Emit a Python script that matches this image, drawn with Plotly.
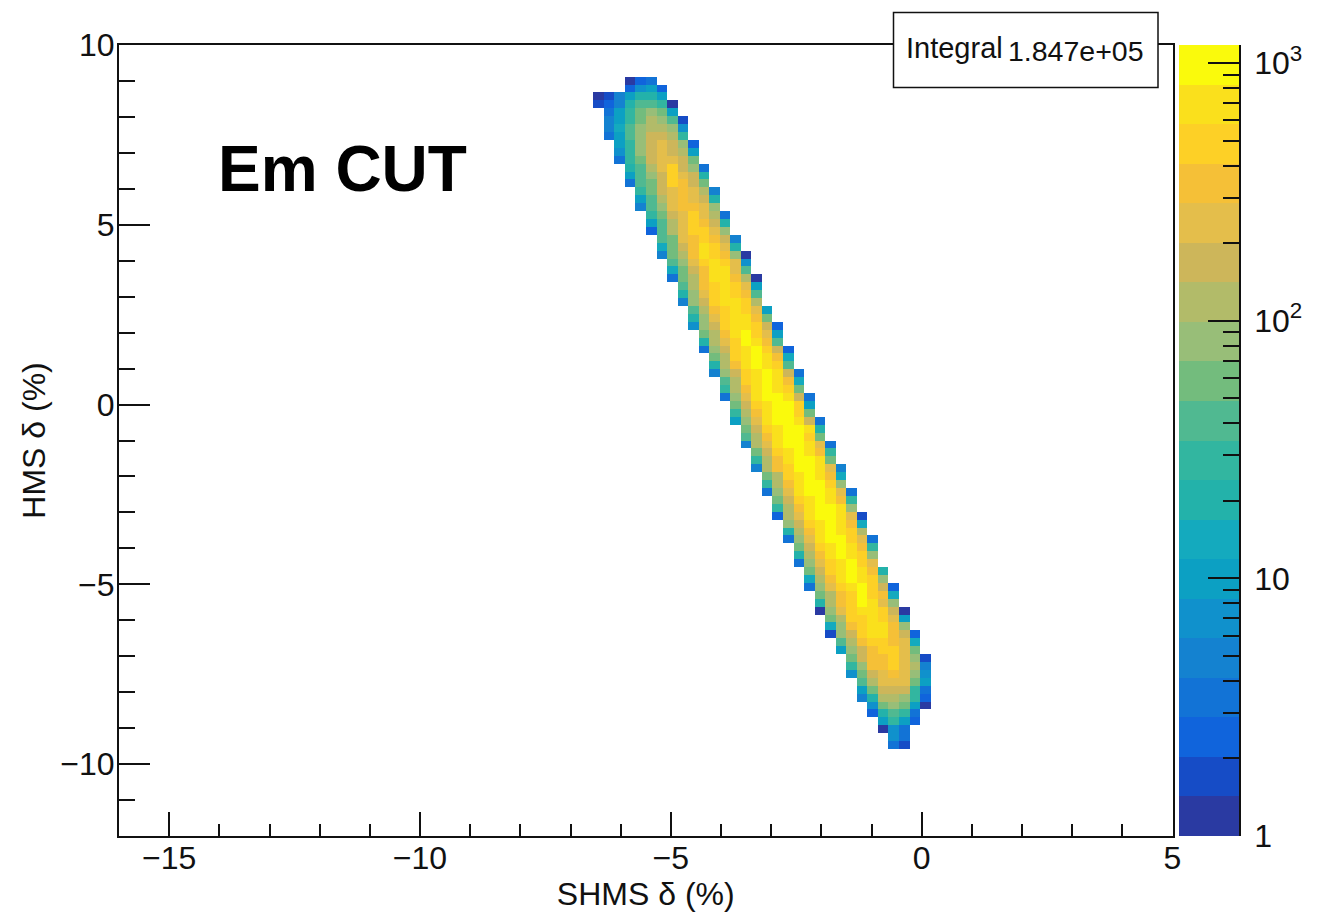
import math
import plotly.graph_objects as go

# Histogram binning (100 x 100 bins)
X_MIN, X_MAX, N_X = -16.0, 5.0, 100
Y_MIN, Y_MAX, N_Y = -12.0, 10.0, 100
Z_DECADES = 3.07

# Palette bands, bottom to top of the colour scale
BAND_COLORS = [
    "#2a3aa2", "#164cc6", "#1064dc", "#1273d6", "#1482d0", "#1091cc", "#0ca0c3", "#14aabe",
    "#23b2aa", "#32b6a0", "#50b991", "#73bc7d", "#98be78", "#b2bb69", "#cdb65a", "#e4be4b",
    "#f5c037", "#fdd026", "#fae01c", "#fafa0c",
]
# Representative bin content of each band
BAND_COUNTS = [1.19, 1.70, 2.42, 3.44, 4.9, 7.0, 9.9, 14.2, 20, 29,
               41, 58, 83, 118, 168, 239, 341, 485, 691, 985]

FIRST_ROW = 4  # bin rows counted downward from the top edge
ROW_START = [48, 48, 45, 45, 46, 46, 46, 46, 47, 47, 47, 48, 48, 48, 49, 49, 49, 50, 50, 50, 51, 51, 51,
             52, 52, 52, 53, 53, 53, 54, 54, 54, 55, 55, 55, 56, 56, 56, 57, 57, 57, 58, 58, 58,
             59, 59, 59, 60, 60, 60, 61, 61, 61, 62, 62, 62, 63, 63, 63, 64, 64, 64, 65, 65, 65,
             66, 66, 66, 67, 67, 67, 68, 68, 69, 69, 69, 70, 70, 70, 71, 71, 72, 72, 73, 73]
ROW_BANDS = [
    [0, 2, 3], [2, 5, 6, 2], [0, 1, 4, 6, 8, 8, 6], [1, 2, 4, 8, 10, 10, 9, 0],
    [3, 6, 9, 11, 12, 11, 6], [4, 6, 9, 11, 13, 12, 10, 1], [4, 7, 10, 12, 13, 13, 12, 5],
    [3, 6, 10, 12, 14, 14, 13, 9], [6, 9, 12, 14, 15, 14, 12, 2], [5, 9, 12, 14, 15, 14, 13, 6],
    [3, 9, 11, 14, 15, 15, 14, 11], [8, 10, 13, 15, 17, 14, 12, 3], [6, 10, 12, 14, 17, 15, 14, 8],
    [3, 10, 11, 14, 17, 16, 14, 11], [9, 11, 14, 15, 16, 15, 13, 4], [6, 10, 13, 15, 16, 15, 14, 8],
    [4, 10, 12, 15, 16, 16, 15, 12], [9, 11, 14, 15, 17, 15, 13, 3], [6, 10, 13, 15, 17, 16, 14, 8],
    [2, 10, 13, 15, 17, 17, 15, 12], [10, 11, 15, 16, 17, 16, 14, 4], [7, 11, 14, 16, 18, 17, 15, 8],
    [4, 11, 13, 16, 18, 17, 16, 12, 0], [10, 12, 15, 17, 18, 17, 15, 5], [7, 11, 14, 16, 18, 18, 15, 10],
    [3, 11, 13, 16, 18, 18, 16, 13, 0], [10, 13, 16, 17, 18, 17, 15, 6], [8, 12, 15, 17, 18, 17, 16, 10],
    [4, 12, 14, 17, 18, 18, 17, 13], [10, 13, 16, 17, 18, 17, 15, 6], [8, 12, 15, 17, 18, 18, 16, 11],
    [5, 12, 14, 17, 18, 18, 17, 14, 2], [11, 13, 16, 18, 19, 17, 15, 6], [8, 13, 15, 17, 19, 18, 16, 10],
    [3, 12, 14, 17, 18, 19, 17, 14, 2], [11, 13, 17, 18, 19, 18, 16, 7], [8, 13, 16, 18, 19, 18, 17, 10],
    [4, 12, 14, 17, 18, 19, 18, 14, 3], [10, 13, 17, 18, 19, 18, 16, 7], [9, 13, 16, 18, 19, 18, 17, 11],
    [3, 12, 15, 18, 19, 19, 18, 14, 3], [11, 14, 17, 18, 19, 19, 17, 6], [9, 13, 16, 18, 19, 19, 17, 11],
    [6, 12, 15, 18, 19, 19, 18, 14, 3], [11, 14, 17, 18, 19, 19, 18, 8], [10, 13, 16, 18, 19, 19, 17, 11],
    [4, 13, 15, 18, 19, 19, 18, 15, 3], [11, 14, 17, 18, 19, 18, 16, 9], [9, 13, 16, 18, 19, 19, 18, 11],
    [4, 13, 16, 17, 19, 19, 18, 15, 4], [11, 13, 17, 18, 19, 18, 16, 7], [9, 13, 16, 18, 19, 19, 17, 12],
    [3, 12, 15, 18, 19, 19, 18, 15, 3], [11, 14, 17, 18, 19, 18, 16, 9], [9, 13, 16, 18, 19, 19, 18, 12],
    [2, 13, 15, 18, 19, 19, 18, 15, 1], [12, 14, 17, 18, 19, 18, 16, 7], [8, 13, 16, 18, 19, 18, 17, 13],
    [3, 12, 15, 18, 19, 19, 17, 15, 3], [11, 14, 17, 18, 19, 18, 16, 9], [8, 13, 16, 18, 19, 18, 17, 12],
    [3, 12, 15, 17, 18, 19, 17, 15], [11, 14, 17, 18, 19, 18, 16, 8], [7, 13, 16, 18, 19, 18, 17, 12],
    [3, 12, 15, 17, 18, 19, 17, 14, 2], [11, 13, 16, 17, 19, 17, 16, 7], [8, 13, 16, 17, 19, 18, 15, 12],
    [0, 12, 15, 17, 18, 18, 17, 14, 0], [11, 13, 17, 17, 18, 17, 15, 6], [7, 12, 16, 17, 18, 18, 16, 12],
    [1, 12, 14, 17, 18, 18, 16, 14, 2], [10, 13, 16, 17, 17, 16, 15, 7], [6, 12, 14, 16, 17, 17, 15, 11],
    [11, 14, 16, 16, 17, 15, 12, 1], [9, 12, 16, 16, 17, 15, 13, 4], [5, 11, 14, 15, 16, 15, 12, 5],
    [10, 13, 15, 15, 15, 11, 6], [6, 11, 14, 14, 14, 9, 3], [4, 8, 13, 13, 12, 9, 2],
    [5, 11, 12, 11, 6, 0], [2, 8, 10, 9, 3], [6, 9, 6, 2], [0, 5, 3], [5, 3], [3, 1],
]

X_TICK_VALUES = [-15, -10, -5, 0, 5]
Y_TICK_VALUES = [-10, -5, 0, 5, 10]
Z_TICK_VALUES = [1, 10, 100, 1000]
Z_TICK_LABELS = ["1", "10", "10<sup>2</sup>", "10<sup>3</sup>"]
Z_MINOR_VALUES = [m * 10 ** d for d in range(3) for m in range(2, 10)]

X_TITLE = "SHMS δ (%)"
Y_TITLE = "HMS δ (%)"
CUT_LABEL = "Em CUT"
STAT_NAME = "Integral"
STAT_VALUE = "1.847e+05"

FONT = "Liberation Sans"
W, H = 1326, 913
ML, MR, MT, MB = 119, 0, 44.5, 77
PW, PH = W - ML - MR, H - MT - MB


def px(x):
    return (x - ML) / PW


def py(y):
    return (H - MB - y) / PH


dx = (X_MAX - X_MIN) / N_X
dy = (Y_MAX - Y_MIN) / N_Y
x_centers = [X_MIN + (i + 0.5) * dx for i in range(N_X)]
y_centers = [Y_MIN + (j + 0.5) * dy for j in range(N_Y)]
z = [[None] * N_X for _ in range(N_Y)]
for i, (start, bands) in enumerate(zip(ROW_START, ROW_BANDS)):
    row = N_Y - 1 - (FIRST_ROW + i)
    for k, band in enumerate(bands):
        z[row][start + k] = math.log10(BAND_COUNTS[band])

n_bands = len(BAND_COLORS)
colorscale = []
for i, c in enumerate(BAND_COLORS):
    colorscale.append([i / n_bands, c])
    colorscale.append([(i + 1) / n_bands, c])

band_edges = [10 ** (i * Z_DECADES / n_bands) for i in range(n_bands + 1)]
band_z = [[math.log10(c)] for c in BAND_COUNTS]

fig = go.Figure()
fig.add_trace(go.Heatmap(x=x_centers, y=y_centers, z=z, colorscale=colorscale, zmin=0, zmax=Z_DECADES,
                         showscale=False, hoverongaps=False))
fig.add_trace(go.Heatmap(x=[0, 1], y=band_edges, z=band_z, colorscale=colorscale, zmin=0, zmax=Z_DECADES,
                         showscale=False, xaxis="x2", yaxis="y2"))

fig.update_layout(
    width=W, height=H,
    margin=dict(l=ML, r=MR, t=MT, b=MB, autoexpand=False),
    paper_bgcolor="white", plot_bgcolor="white",
    font=dict(family=FONT, color="#111111", size=32),
    showlegend=False,
    xaxis=dict(
        domain=[0, px(1172.5)], range=[X_MIN, X_MAX], anchor="y",
        tickmode="array", tickvals=X_TICK_VALUES,
        ticks="inside", ticklen=24, tickwidth=1.5, tickcolor="#111111",
        minor=dict(ticks="inside", ticklen=12, tickwidth=1.5, tickcolor="#111111", dtick=1, tick0=0),
        showline=True, linecolor="#111111", linewidth=2, mirror=True,
        showgrid=False, zeroline=False, tickfont=dict(size=32), ticklabelstandoff=-7,
        title=dict(text=X_TITLE, font=dict(size=32), standoff=0),
    ),
    yaxis=dict(
        domain=[0, 1], range=[Y_MIN, Y_MAX], anchor="x",
        tickmode="array", tickvals=Y_TICK_VALUES,
        ticks="inside", ticklen=31, tickwidth=1.5, tickcolor="#111111",
        minor=dict(ticks="inside", ticklen=16, tickwidth=1.5, tickcolor="#111111", dtick=1, tick0=0),
        showline=True, linecolor="#111111", linewidth=2, mirror=True,
        showgrid=False, zeroline=False, tickfont=dict(size=32), ticklabelstandoff=-4,
        title=dict(text=Y_TITLE, font=dict(size=32), standoff=5),
    ),
    xaxis2=dict(domain=[px(1179), px(1239)], range=[0, 1], anchor="y2", visible=False),
    yaxis2=dict(
        domain=[0, 1], type="log", range=[0, Z_DECADES], anchor="x2", side="right",
        tickmode="array", tickvals=Z_TICK_VALUES, ticktext=Z_TICK_LABELS,
        ticks="inside", ticklen=31, tickwidth=1.5, tickcolor="#111111",
        minor=dict(ticks="inside", ticklen=16, tickwidth=1.5, tickcolor="#111111", tickvals=Z_MINOR_VALUES),
        showline=True, linecolor="#111111", linewidth=1.5,
        showgrid=False, zeroline=False, tickfont=dict(size=32), ticklabelstandoff=7,
    ),
    shapes=[dict(type="rect", xref="paper", yref="paper", x0=px(893.5), x1=px(1158), y0=py(87), y1=py(12),
                 line=dict(color="#111111", width=1.5), fillcolor="white", layer="above")],
    annotations=[
        dict(text=CUT_LABEL, xref="paper", yref="paper", x=px(215.5), y=py(169), xanchor="left", yanchor="middle",
             showarrow=False, font=dict(size=64, family=FONT, color="black", weight="bold")),
        dict(text=STAT_NAME, xref="paper", yref="paper", x=px(904), y=py(48), xanchor="left", yanchor="middle",
             showarrow=False, font=dict(size=29, family=FONT)),
        dict(text=STAT_VALUE, xref="paper", yref="paper", x=px(1146), y=py(50.5), xanchor="right", yanchor="middle",
             showarrow=False, font=dict(size=28.5, family=FONT)),
    ],
)

fig.write_html("out.html", config={"displayModeBar": False}, post_script="document.body.style.margin='0';")
